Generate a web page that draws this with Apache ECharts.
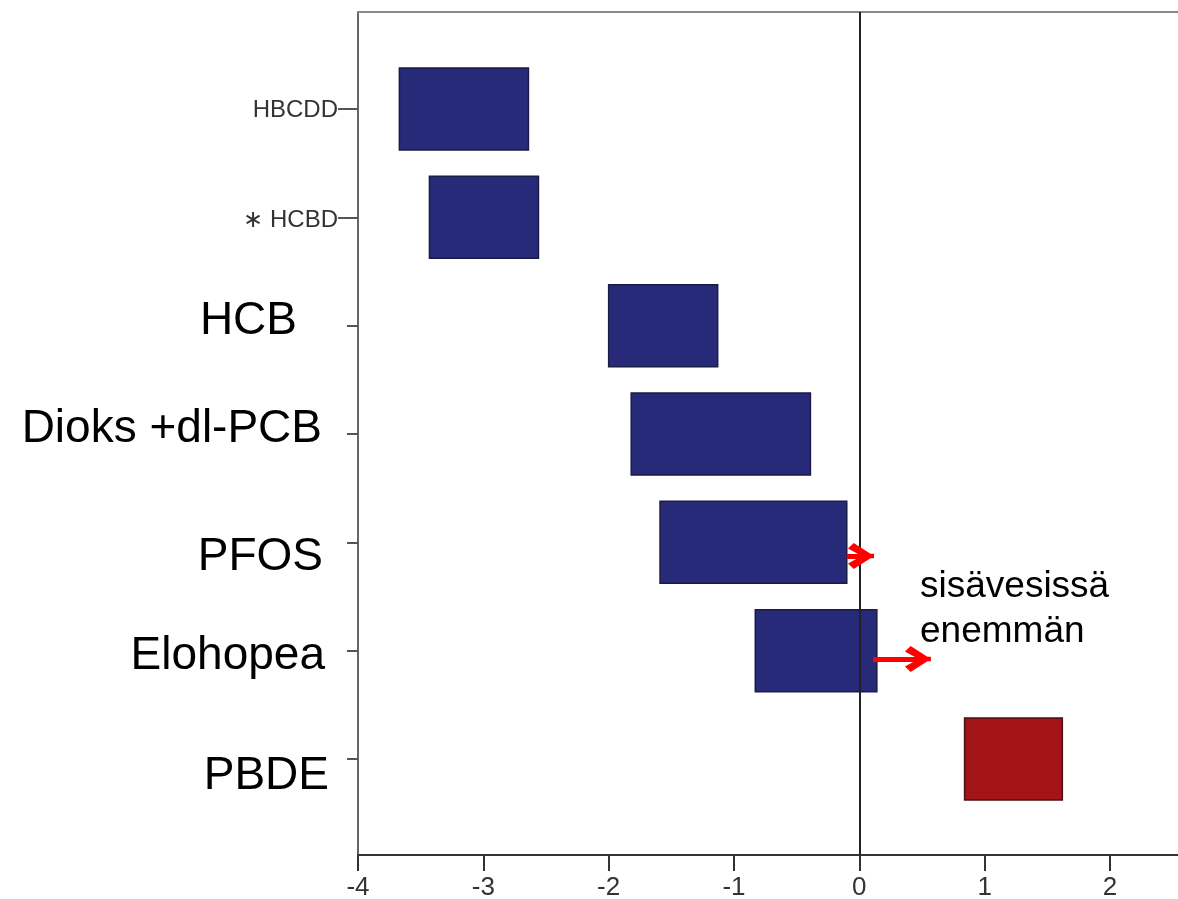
<!DOCTYPE html>
<html>
<head>
<meta charset="utf-8">
<script src="https://cdn.jsdelivr.net/npm/echarts@6/dist/echarts.min.js"></script>
<style>
  html, body { margin: 0; padding: 0; background: #ffffff; }
  #chart { width: 1178px; height: 899px; }
</style>
</head>
<body>
<div id="chart"></div>
<script>
// ---- data ----
const categories = ['HBCDD', '\u2217 HCBD', 'HCB', 'Dioks +dl-PCB', 'PFOS', 'Elohopea', 'PBDE'];
const lowValues  = [-3.67, -3.43, -2.00, -1.82, -1.59, -0.83, 0.84];
const highValues = [-2.64, -2.56, -1.13, -0.39, -0.10,  0.14, 1.62];
const direction  = ['lower', 'lower', 'lower', 'lower', 'lower', 'lower', 'higher'];
const xTickValues = [-4, -3, -2, -1, 0, 1, 2];
const annotationText = 'sisävesissä\nenemmän';
// arrows: [startX, endX, categoryPosition]
const arrows = [
  [-0.10, 0.014, 4.126],
  [0.11, 0.468, 5.077]
];

// ---- styles ----
const FONT = "'Liberation Sans', Arial, sans-serif";
const BAR_HEIGHT = 0.757;
const barFill = { lower: '#262a78', higher: '#a31419' };
const barStroke = { lower: '#1b1c45', higher: '#4a1212' };
// per-label rich styles: [fontSize, shift (px, + = down), extra right padding, color]
const labelStyle = [
  [24, 1, 0, '#333'],
  [24, 3, 0, '#333'],
  [46, -4, 41, '#000'],
  [46, -5, 16, '#000'],
  [46, 15, 15, '#000'],
  [46, 6, 13, '#000'],
  [46, 17, 9, '#000']
];
const rich = {};
labelStyle.forEach(function (s, i) {
  const d = s[1];
  rich['s' + i] = {
    fontSize: s[0],
    fontFamily: FONT,
    color: s[3],
    padding: [d > 0 ? 2 * d : 0, s[2], d < 0 ? -2 * d : 0, 0]
  };
});

const catIdx = categories.map(function (c, i) { return i; });
const barData = categories.map(function (c, i) { return [i, lowValues[i], highValues[i], direction[i]]; });

const chevron = 'path://M0,18 L12,0 L24,18 L19,23 L12,11 L5,23 Z M10,0 L14,0 L14,12 L10,12 Z';

const chart = echarts.init(document.getElementById('chart'), null, { renderer: 'canvas' });
chart.setOption({
  animation: false,
  backgroundColor: '#ffffff',
  grid: { left: 358, right: 0, top: 12, bottom: 44, containLabel: false, outerBoundsMode: 'none' },
  xAxis: [
    {
      type: 'value', position: 'bottom', min: -4, max: 2.543,
      axisLine: { show: true, onZero: false, lineStyle: { color: '#333', width: 2 } },
      axisTick: { show: true, customValues: xTickValues, length: 16, lineStyle: { color: '#333', width: 2 } },
      axisLabel: { customValues: xTickValues, fontSize: 26, fontFamily: FONT, color: '#333', margin: 20 },
      splitLine: { show: false }
    },
    {
      type: 'value', position: 'top', min: -4, max: 2.543,
      axisLine: { show: true, onZero: false, lineStyle: { color: '#888', width: 2 } },
      axisTick: { show: false }, axisLabel: { show: false }, splitLine: { show: false }
    }
  ],
  yAxis: [
    {
      type: 'value', position: 'left', inverse: true, min: -0.895, max: 6.886,
      axisLine: { show: true, onZero: false, lineStyle: { color: '#666', width: 2 } },
      axisTick: { show: true, customValues: catIdx.slice(2), length: 11, lineStyle: { color: '#555', width: 2 } },
      axisLabel: {
        customValues: catIdx, margin: 20,
        formatter: function (v) { const i = Math.round(v); return '{s' + i + '|' + categories[i] + '}'; },
        rich: rich
      },
      splitLine: { show: false }
    },
    {
      type: 'value', position: 'left', inverse: true, min: -0.895, max: 6.886,
      axisLine: { show: false, onZero: false },
      axisTick: { show: true, customValues: catIdx.slice(0, 2), length: 20, lineStyle: { color: '#555', width: 2 } },
      axisLabel: { show: false },
      splitLine: { show: false }
    }
  ],
  series: [
    {
      type: 'custom',
      xAxisIndex: 0, yAxisIndex: 0,
      data: barData,
      encode: { x: [1, 2], y: 0 },
      renderItem: function (params, api) {
        const i = api.value(0);
        const p0 = api.coord([api.value(1), i]);
        const p1 = api.coord([api.value(2), i]);
        const h = api.size([0, BAR_HEIGHT])[1];
        const dir = direction[i];
        return {
          type: 'rect',
          shape: { x: p0[0], y: p0[1] - h / 2, width: p1[0] - p0[0], height: h },
          style: { fill: barFill[dir], stroke: barStroke[dir], lineWidth: 1.5 }
        };
      },
      z: 2,
      markLine: {
        silent: true, symbol: ['none', 'none'], z: 5,
        label: { show: false },
        lineStyle: { color: '#222', width: 2, type: 'solid' },
        data: [{ xAxis: 0 }]
      }
    },
    {
      type: 'line', xAxisIndex: 0, yAxisIndex: 0, data: [],
      markLine: {
        silent: true, z: 6,
        symbol: ['none', chevron], symbolSize: 26,
        label: { show: false },
        lineStyle: { color: '#ff0000', width: 5, type: 'solid', cap: 'butt' },
        itemStyle: { color: '#ff0000' },
        data: arrows.map(function (a) {
          return [{ coord: [a[0], a[2]] }, { coord: [a[1], a[2]] }];
        })
      }
    }
  ],
  graphic: [
    {
      type: 'text', left: 920, top: 564, z: 10,
      style: { text: annotationText, fontSize: 37, lineHeight: 45, fontFamily: FONT, fill: '#000' }
    }
  ]
});
</script>
</body>
</html>
